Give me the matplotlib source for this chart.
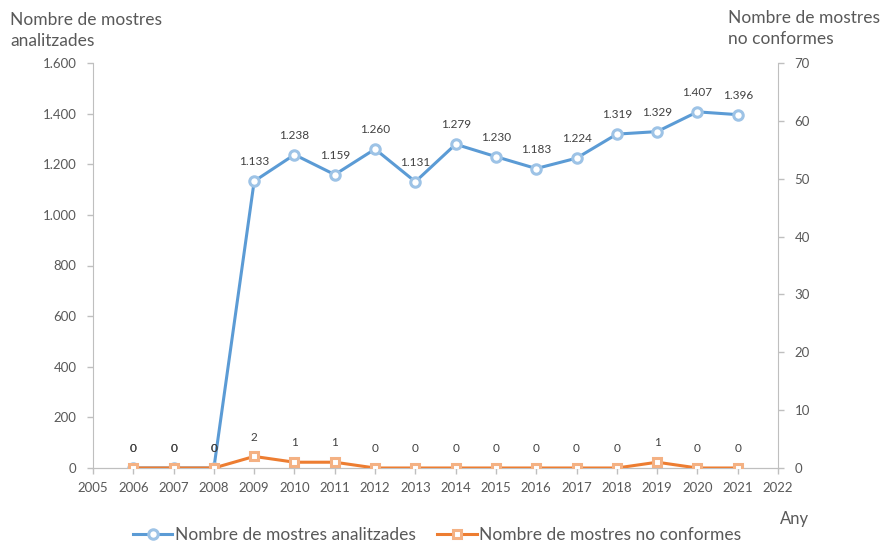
import matplotlib
matplotlib.use("Agg")
import matplotlib.pyplot as plt

years = [2006, 2007, 2008, 2009, 2010, 2011, 2012, 2013, 2014, 2015, 2016, 2017, 2018, 2019, 2020, 2021]
analitzades = [0, 0, 0, 1133, 1238, 1159, 1260, 1131, 1279, 1230, 1183, 1224, 1319, 1329, 1407, 1396]
no_conformes = [0, 0, 0, 2, 1, 1, 0, 0, 0, 0, 0, 0, 0, 1, 0, 0]
left_ticks = [0, 200, 400, 600, 800, 1000, 1200, 1400, 1600]
right_ticks = [0, 10, 20, 30, 40, 50, 60, 70]
x_ticks = list(range(2005, 2023))

plt.rcParams['font.family'] = ['Lato', 'DejaVu Sans']

def fmt(v):
    return f"{v:,}".replace(",", ".")

fig = plt.figure(figsize=(8.83, 5.44), dpi=100)
ax = fig.add_axes([93/883, 1-468/544, (778-93)/883, (468-63)/544])
ax2 = ax.twinx()

blue = "#5B9BD5"
blue_light = "#9DC3E6"
orange = "#ED7D31"
orange_light = "#F4B183"
grey = "#595959"
axis_c = "#BFBFBF"

l1, = ax.plot(years, analitzades, color=blue, lw=2.2, marker='o', ms=6.8,
              mfc='white', mec=blue_light, mew=2.2, zorder=3,
              label="Nombre de mostres analitzades")
l2, = ax2.plot(years, no_conformes, color=orange, lw=2.2, marker='s', ms=5.8,
               mfc='white', mec=orange_light, mew=2.2, zorder=3,
               label="Nombre de mostres no conformes")

for x, v in zip(years, analitzades):
    ax.annotate(fmt(v), (x, v), xytext=(0, 10), textcoords='offset points',
                ha='center', va='bottom', fontsize=8.5, color='#404040')
for x, v in zip(years, no_conformes):
    ax2.annotate(fmt(v), (x, v), xytext=(0, 10), textcoords='offset points',
                 ha='center', va='bottom', fontsize=8.5, color='#404040')

ax.set_xlim(2005, 2022)
ax.set_ylim(0, 1600)
ax2.set_ylim(0, 70)
ax.set_xticks(x_ticks)
ax.set_yticks(left_ticks)
ax2.set_yticks(right_ticks)
ax.set_yticklabels([fmt(t) for t in left_ticks])

for a in (ax, ax2):
    for s in a.spines.values():
        s.set_color(axis_c)
    a.spines['top'].set_visible(False)
    a.tick_params(colors=axis_c, labelcolor=grey, labelsize=9.5, length=4, width=1)
ax.spines['right'].set_visible(False)
ax2.spines['left'].set_visible(False)
ax.tick_params(axis='y', pad=8)
ax2.tick_params(axis='y', pad=8)
ax.tick_params(axis='x', pad=6)

fig.text(10/883, 1-30.5/544, "Nombre de mostres\nanalitzades", fontsize=12.5,
         color=grey, ha='left', va='center', linespacing=1.35)
fig.text(728/883, 1-28.5/544, "Nombre de mostres\nno conformes", fontsize=12.5,
         color=grey, ha='left', va='center', linespacing=1.35)
fig.text(780/883, 1-519/544, "Any", fontsize=12, color=grey, ha='left', va='center')

leg = fig.legend(handles=[l1, l2], loc='center', bbox_to_anchor=(437/883, 1-535/544),
                 ncol=2, frameon=False, fontsize=12.5, labelcolor=grey,
                 handlelength=2.3, columnspacing=1.2, handletextpad=0.15)

fig.savefig("out.png", dpi=100, facecolor='white')
